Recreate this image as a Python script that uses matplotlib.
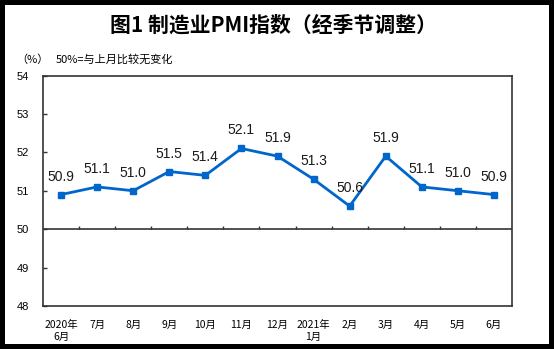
import matplotlib.pyplot as plt
from matplotlib.patches import Rectangle

plt.rcParams['font.family'] = ['Noto Sans CJK SC', 'DejaVu Sans']

# 制造业PMI（经季节调整）
months = ['2020年\n6月', '7月', '8月', '9月', '10月', '11月', '12月',
          '2021年\n1月', '2月', '3月', '4月', '5月', '6月']
pmi = [50.9, 51.1, 51.0, 51.5, 51.4, 52.1, 51.9, 51.3, 50.6, 51.9, 51.1, 51.0, 50.9]
yticks = [48, 49, 50, 51, 52, 53, 54]

W, H = 554, 349
fig = plt.figure(figsize=(W / 100, H / 100), dpi=100, facecolor='black')

# white card inside black border
fig.patches.append(Rectangle((5 / W, 5 / H), 544 / W, 339 / H, transform=fig.transFigure,
                             facecolor='white', edgecolor='none', zorder=-1))

ax = fig.add_axes([43 / W, (H - 306) / H, (512 - 43) / W, (306 - 75.5) / H])
ax.set_facecolor('white')

x = list(range(len(months)))
ax.plot(x, pmi, color='#0066CC', lw=2, marker='s', ms=5, zorder=3, clip_on=False)
for xi, v in zip(x, pmi):
    ax.annotate(f'{v:.1f}', (xi, v), xytext=(0, 18), textcoords='offset pixels',
                ha='center', va='center', fontsize=10, family='Liberation Sans', color='#1a1a1a')

ax.set_xlim(-0.5, len(months) - 0.5)
ax.set_ylim(48, 54)

# horizontal axis sits at 50, ticks between categories
ax.axhline(50, color='#333333', lw=1.2, zorder=2)
ax.vlines([i + 0.5 for i in range(len(months) - 1)], 50, 50.08, color='#333333', lw=1)

ax.set_yticks(yticks)
ax.set_yticklabels([str(t) for t in yticks], family='Liberation Sans', fontsize=8)
ax.tick_params(axis='y', direction='in', length=3, width=1, color='#333333', pad=10)
ax.set_xticks(x)
ax.set_xticklabels(months, fontsize=7.5, linespacing=1.25, va='top')
ax.tick_params(axis='x', length=0, pad=10)
for sp in ax.spines.values():
    sp.set_color('#333333')
    sp.set_linewidth(1.2)

fig.text(274 / W, 1 - 25 / H, '图1 制造业PMI指数（经季节调整）', ha='center', va='center',
         fontsize=15, fontweight='bold')
fig.text(16 / W, 1 - 59.5 / H, '（%）', ha='left', va='center', fontsize=8)
fig.text(56 / W, 1 - 59.5 / H, '50%=与上月比较无变化', ha='left', va='center', fontsize=8)

fig.savefig('out.png', dpi=100, facecolor='black')
